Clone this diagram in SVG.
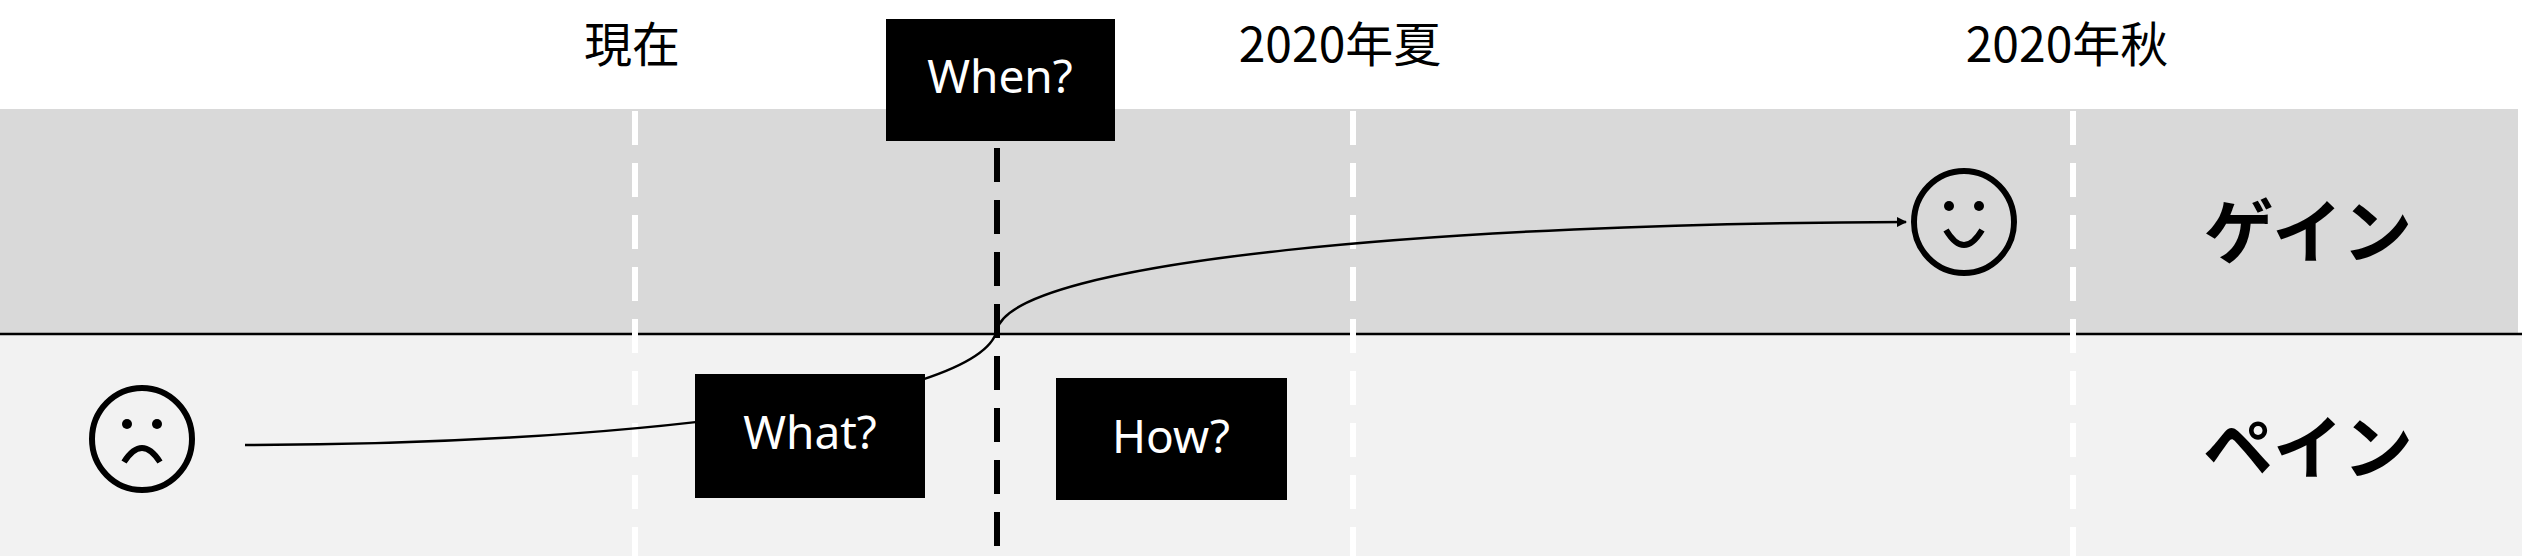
<svg xmlns="http://www.w3.org/2000/svg" width="2522" height="556" viewBox="0 0 2522 556">
<style>
.lbl{font-family:"Noto Sans CJK JP","Noto Sans",sans-serif;font-size:48px;fill:#000;text-anchor:middle}
.big{font-family:"Noto Sans CJK JP",sans-serif;font-size:70px;font-weight:bold;fill:#000;text-anchor:middle}
.box{fill:#000}
.bt{font-family:"Noto Sans","Noto Sans CJK JP",sans-serif;font-size:46px;fill:#fff;text-anchor:middle}
.wd{stroke:#fff;stroke-width:6;stroke-dasharray:34 18;fill:none}
.face{fill:none;stroke:#000;stroke-width:6}
</style>
<defs><marker id="ar" markerWidth="10" markerHeight="10" refX="9" refY="5" orient="auto" markerUnits="userSpaceOnUse" viewBox="0 0 10 10"><path d="M0,0L10,5L0,10z" fill="#000"/></marker></defs>
<rect x="0" y="109" width="2518" height="224" fill="#d9d9d9"/>
<rect x="0" y="333" width="2522" height="223" fill="#f2f2f2"/>
<line x1="0" y1="334" x2="2522" y2="334" stroke="#000" stroke-width="2.5"/>
<g id="grid">
<line class="wd" x1="635" y1="111" x2="635" y2="556"/>
<line class="wd" x1="1353" y1="111" x2="1353" y2="556"/>
<line class="wd" x1="2073" y1="111" x2="2073" y2="556"/>
<line x1="997" y1="148" x2="997" y2="550" stroke="#000" stroke-width="6" stroke-dasharray="34 18"/>
</g>
<g id="labels">
<text class="lbl" x="632" y="62">現在</text>
<text class="lbl" x="1340" y="62">2020年夏</text>
<text class="lbl" x="2067" y="62">2020年秋</text>
<text class="big" x="2308" y="258">ゲイン</text>
<text class="big" x="2308" y="474">ペイン</text>
</g>
<g id="connectors">
<path d="M245,445 C600,445 980,405 997,330 C1012,260 1450,223 1906,222" fill="none" stroke="#000" stroke-width="2.5" marker-end="url(#ar)"/>
</g>
<g id="when"><rect class="box" x="886" y="19" width="229" height="122"/><text class="bt" x="1000" y="93">When?</text></g>
<g id="what"><rect class="box" x="695" y="374" width="230" height="124"/><text class="bt" x="810" y="449">What?</text></g>
<g id="how"><rect class="box" x="1056" y="378" width="231" height="122"/><text class="bt" x="1171" y="453">How?</text></g>
<g id="sad"><ellipse class="face" cx="142" cy="439" rx="50" ry="51"/><circle cx="127" cy="424" r="5"/><circle cx="157" cy="424" r="5"/><path d="M124,462 Q142,434 160,462" class="face" stroke-width="4"/></g>
<g id="happy"><ellipse class="face" cx="1964" cy="222" rx="50" ry="51"/><circle cx="1949" cy="206" r="5"/><circle cx="1979" cy="206" r="5"/><path d="M1946,230 Q1964,260 1982,230" class="face" stroke-width="4"/></g>
</svg>
